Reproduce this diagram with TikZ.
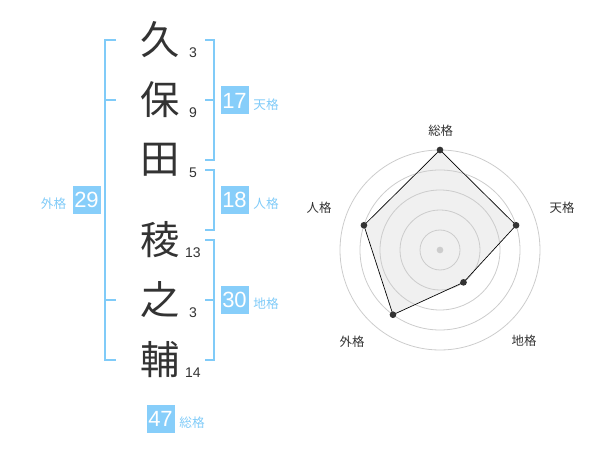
\documentclass[tikz,border=0pt]{standalone}
\usepackage{fontspec}
\setmainfont{Liberation Sans}
\newfontfamily\cjk{Noto Sans CJK JP}
\definecolor{sky}{HTML}{80CBF8}
\definecolor{skybox}{HTML}{87CEFA}
\definecolor{ink}{HTML}{333333}
\definecolor{ring}{HTML}{CCCCCC}
\definecolor{area}{HTML}{F0F0F0}
\begin{document}
\begin{tikzpicture}[x=0.75pt,y=-0.75pt,
  kanji/.style={inner sep=0pt,text=ink,font=\cjk\fontsize{29.5}{30}\selectfont},
  stroke/.style={inner sep=0pt,text=ink,font=\fontsize{10.5}{10.5}\selectfont},
  bracket/.style={draw=sky,line width=1.6pt},
  numbox/.style={fill=skybox,text=white,minimum width=21pt,minimum height=21pt,inner sep=0pt,font=\fontsize{16.5}{16.5}\selectfont},
  glabel/.style={inner sep=0pt,text=sky,font=\cjk\fontsize{9.5}{9.5}\selectfont},
  rlabel/.style={inner sep=0pt,text=ink,font=\cjk\fontsize{9.3}{9.3}\selectfont},
  dot/.style={circle,fill=ink,inner sep=0pt,minimum size=5pt},
  ringline/.style={draw=ring,line width=0.6pt}]
\useasboundingbox (0,0) rectangle (600,470);
% name characters
\node[kanji] (c1) at (160,40) {久};
\node[kanji] (c2) at (160,100) {保};
\node[kanji] (c3) at (160,160) {田};
\node[kanji] (c4) at (160,240) {稜};
\node[kanji] (c5) at (160,300) {之};
\node[kanji] (c6) at (160,360) {輔};
\node[stroke] (s1) at (193,52.5) {3};
\node[stroke] (s2) at (193,113) {9};
\node[stroke] (s3) at (193,173) {5};
\node[stroke] (s4) at (193,252.5) {13};
\node[stroke] (s5) at (193,313) {3};
\node[stroke] (s6) at (193,373) {14};
% brackets
\draw[bracket] (116,40) -- (105,40) -- (105,360) -- (116,360);
\draw[bracket] (105,100) -- (116,100);
\draw[bracket] (105,300) -- (116,300);
\draw[bracket] (205,40) -- (214,40) -- (214,160) -- (205,160);
\draw[bracket] (205,100) -- (214,100);
\draw[bracket] (205,170) -- (214,170) -- (214,230) -- (205,230);
\draw[bracket] (205,240) -- (214,240) -- (214,360) -- (205,360);
\draw[bracket] (205,300) -- (214,300);
% boxes
\node[numbox] (b17) at (234.5,100.5) {17};
\node[glabel] (l17) at (266,104.5) {天格};
\node[numbox] (b18) at (234.5,200) {18};
\node[glabel] (l18) at (266,204) {人格};
\node[numbox] (b30) at (234.5,300) {30};
\node[glabel] (l30) at (266,304) {地格};
\node[numbox] (b29) at (86.5,200) {29};
\node[glabel] (l29) at (53.5,203.5) {外格};
\node[numbox] (b47) at (160.5,419) {47};
\node[glabel] (l47) at (192,422.7) {総格};
% radar
\coordinate (p1) at (440,150);
\coordinate (p2) at ({440+80*cos(18)},{250-80*sin(18)});
\coordinate (p3) at ({440+40*cos(54)},{250+40*sin(54)});
\coordinate (p4) at ({440-80*cos(54)},{250+80*sin(54)});
\coordinate (p5) at ({440-80*cos(18)},{250-80*sin(18)});
\fill[area] (p1) -- (p2) -- (p3) -- (p4) -- (p5) -- cycle;
\foreach \r in {20,40,60,80,100} \draw[ringline] (440,250) circle[radius=\r];
\node[circle,fill=ring,inner sep=0pt,minimum size=5pt] (ctr) at (440,250) {};
\draw[black,line width=0.5pt] (p1) -- (p2) -- (p3) -- (p4) -- (p5) -- cycle;
\foreach \p in {p1,p2,p3,p4,p5} \node[dot] (d\p) at (\p) {};
\node[rlabel] (r1) at (440.7,130.7) {総格};
\node[rlabel] (r2) at (562,208) {天格};
\node[rlabel] (r3) at (524,341) {地格};
\node[rlabel] (r4) at (352,341.7) {外格};
\node[rlabel] (r5) at (319,208) {人格};
\end{tikzpicture}
\end{document}
